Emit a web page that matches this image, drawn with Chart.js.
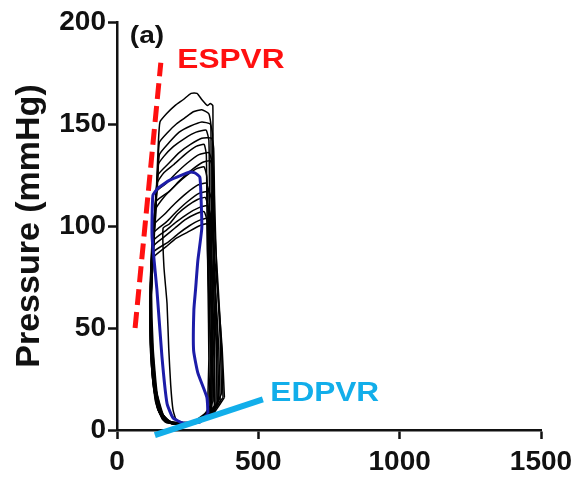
<!DOCTYPE html>
<html>
<head>
<meta charset="utf-8">
<script src="https://cdn.jsdelivr.net/npm/chart.js@4/dist/chart.umd.min.js"></script>
<style>
  html, body { margin: 0; padding: 0; background: #fff; }
  #pvChart { display: block; }
</style>
</head>
<body>
<canvas id="pvChart" width="579" height="483"></canvas>
<script>
// axis ticks
const xTicks = [0, 500, 1000, 1500];
const yTicks = [0, 50, 100, 150, 200];

// pressure-volume loops: [volume, pressure]
const blackLoops = [
    [[340,14],[345,40],[342,75],[340,105],[339,135],[339,159],[330,160],[320,159],[300,162],[283,165],[262,165],[235,162],[205,159],[175,155],[152,151],[146,140],[140,120],[128,95],[122,70],[128,40],[142,18],[165,7],[195,3],[250,3],[300,6],[340,14]],
    [[335,12],[338,40],[336,80],[333,120],[332,150],[325,155],[300,157],[270,156],[240,153],[210,150],[180,146],[150,141],[143,125],[130,100],[120,75],[124,45],[138,20],[160,8],[190,4],[260,3],[310,6],[335,12]],
    [[360,15],[355,45],[345,80],[340,115],[338,145],[330,150],[300,151],[260,149],[220,146],[185,141],[150,135],[143,120],[125,95],[118,70],[122,45],[135,22],[155,9],[185,4],[280,4],[330,8],[360,15]],
    [[330,10],[335,40],[330,80],[327,120],[325,142],[315,147],[280,146],[240,143],[200,139],[165,134],[146,130],[138,110],[122,85],[118,60],[126,35],[142,15],[168,6],[205,3],[270,3],[310,5],[330,10]],
    [[370,18],[365,45],[352,80],[345,115],[342,138],[335,143],[300,143],[260,140],[220,136],[185,131],[145,125],[137,105],[120,80],[117,55],[125,30],[145,12],[175,5],[230,3],[300,5],[345,10],[370,18]],
    [[320,9],[325,35],[322,70],[318,110],[316,135],[308,140],[280,139],[240,135],[200,130],[165,126],[142,121],[133,100],[122,75],[121,50],[130,28],[148,12],[172,5],[210,3],[270,4],[320,9]],
    [[350,12],[352,40],[345,75],[338,110],[335,132],[325,136],[290,135],[250,131],[210,126],[175,121],[140,117],[132,95],[118,70],[118,45],[128,24],[148,9],[178,4],[220,3],[290,4],[350,12]],
    [[375,16],[370,40],[358,70],[345,100],[340,128],[330,132],[300,131],[260,127],[220,122],[185,117],[138,112],[128,90],[116,65],[118,40],[130,20],[152,8],[185,4],[240,3],[320,6],[375,16]],
    [[325,10],[330,35],[326,70],[322,105],[318,124],[308,129],[280,128],[240,124],[200,119],[165,114],[136,108],[130,88],[120,65],[122,42],[134,22],[155,9],[185,4],[250,3],[300,5],[325,10]],
    [[345,12],[345,40],[335,75],[328,100],[325,117],[315,121],[285,120],[245,116],[205,111],[170,106],[133,101],[128,85],[120,62],[124,40],[136,20],[158,8],[190,4],[250,3],[310,6],[345,12]],
    [[365,14],[360,40],[348,70],[338,95],[334,113],[325,117],[290,116],[250,112],[210,107],[175,102],[132,97],[126,80],[118,58],[122,36],[135,17],[160,6],[195,3],[260,3],[330,7],[365,14]],
    [[335,10],[338,35],[330,70],[326,95],[322,110],[312,114],[285,113],[250,110],[215,106],[185,101],[163,99],[166,80],[177,62],[183,40],[190,22],[198,10],[210,5],[250,3],[305,5],[335,10]],
    [[355,12],[352,40],[340,70],[333,92],[330,106],[320,110],[290,109],[250,106],[210,102],[175,98],[130,93],[124,75],[118,55],[122,32],[136,14],[162,5],[200,3],[260,3],[320,6],[355,12]],
    [[330,9],[333,35],[325,65],[320,88],[318,103],[308,107],[280,106],[240,103],[205,99],[170,95],[128,90],[122,70],[120,50],[126,28],[142,12],[168,5],[200,3],[250,3],[300,5],[330,9]],
    [[380,16],[372,40],[358,65],[345,85],[340,100],[330,104],[295,103],[255,100],[215,96],[180,92],[127,87],[121,68],[118,48],[125,26],[142,11],[170,4],[210,3],[270,3],[340,8],[380,16]],
    [[345,11],[343,35],[335,60],[330,82],[328,97],[318,101],[290,100],[250,97],[210,94],[175,90],[125,84],[120,65],[120,45],[128,24],[145,10],[172,4],[205,3],[255,3],[310,6],[345,11]]
];
const blueLoop = [[322,8],[318,16],[286,28],[271,39],[272,59],[278,69],[286,83],[300,99],[297,115],[293,124],[276,126],[258,126.5],[187,122.5],[145,118.6],[127,115],[124,95],[141,69],[159,36],[177,13],[198,6],[233,3.4],[293,3.9],[322,8]];
const espvrLine = [[64,50],[155,180]];
const edpvrLine = [[134,-2.5],[516,15]];

// text labels placed in data units
const annotations = [
    { text: "(a)", at: [106,193], color: "#111", size: 24 },
    { text: "ESPVR", at: [403,181], color: "#ff1010", size: 27 },
    { text: "EDPVR", at: [735,18], color: "#12aeea", size: 27 }
];

const toPoints = (pairs) => pairs.map(([x, y]) => ({ x, y }));
const fontFamily = "'Liberation Sans', Arial, sans-serif";

const annotationPlugin = {
    id: "annotationText",
    afterDatasetsDraw(chart) {
        const ctx = chart.ctx;
        const xs = chart.scales.x;
        const ys = chart.scales.y;
        annotations.forEach((a) => {
            const px = xs.getPixelForValue(a.at[0]);
            const py = ys.getPixelForValue(a.at[1]);
            ctx.save();
            ctx.translate(px, py);
            ctx.scale(1.17, 1);
            ctx.font = `bold ${a.size}px ${fontFamily}`;
            ctx.fillStyle = a.color;
            ctx.textAlign = "center";
            ctx.textBaseline = "middle";
            ctx.fillText(a.text, 0, 0);
            ctx.restore();
        });
    }
};

const datasets = [
    { data: toPoints(edpvrLine), borderColor: "#12aeea", borderWidth: 6, clip: false, order: 0 },
    { data: toPoints(espvrLine), borderColor: "#ff1010", borderWidth: 5, borderDash: [16, 7], clip: false, order: 1 },
    { data: toPoints(blueLoop), borderColor: "#1c1ca8", borderWidth: 3, tension: 0.15, order: 2 }
];
blackLoops.forEach((loop, i) => {
    datasets.push({ data: toPoints(loop), borderColor: "#000", borderWidth: 1.5, tension: 0.15, order: 3 + i });
});
datasets.forEach((d) => { d.showLine = true; d.pointRadius = 0; d.pointHoverRadius = 0; });

new Chart(document.getElementById("pvChart"), {
    type: "scatter",
    data: { datasets },
    options: {
        responsive: false,
        animation: false,
        events: [],
        layout: { padding: { top: 22, right: 38, left: 0, bottom: 0 } },
        plugins: { legend: { display: false }, tooltip: { enabled: false } },
        scales: {
            x: {
                type: "linear",
                min: 0,
                max: 1500,
                afterBuildTicks: (scale) => { scale.ticks = xTicks.map((v) => ({ value: v })); },
                afterFit: (scale) => { scale.height = 53; },
                ticks: { color: "#111", padding: 6, callback: (v) => String(v), font: { family: fontFamily, size: 28, weight: "bold" } },
                grid: { drawOnChartArea: false, tickLength: 9, tickWidth: 2.5, tickColor: "#111" },
                border: { color: "#111", width: 2.5 }
            },
            y: {
                min: 0,
                max: 200,
                afterBuildTicks: (scale) => { scale.ticks = yTicks.map((v) => ({ value: v })); },
                afterFit: (scale) => { scale.width = 117; },
                ticks: { color: "#111", padding: 2, callback: (v) => String(v), font: { family: fontFamily, size: 28, weight: "bold" } },
                grid: { drawOnChartArea: false, tickLength: 9, tickWidth: 2.5, tickColor: "#111" },
                border: { color: "#111", width: 2.5 },
                title: {
                    display: true,
                    text: "Pressure (mmHg)",
                    color: "#111",
                    padding: { top: 9, bottom: 0 },
                    font: { family: fontFamily, size: 34, weight: "bold" }
                }
            }
        }
    },
    plugins: [annotationPlugin]
});
</script>
</body>
</html>
